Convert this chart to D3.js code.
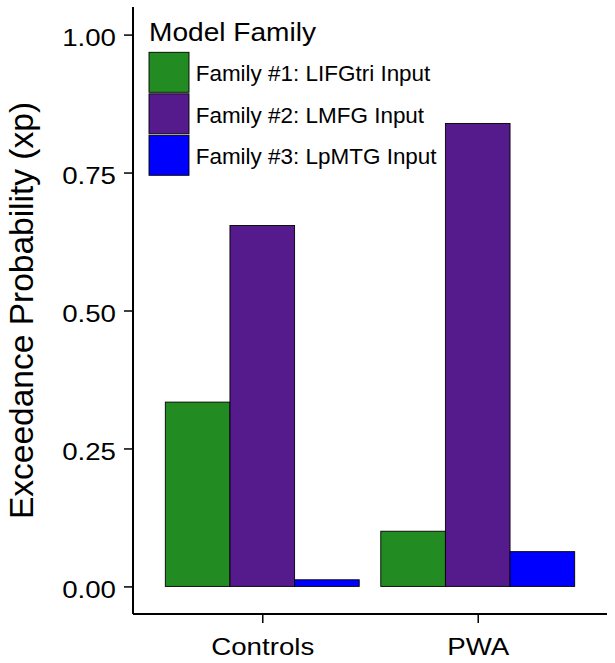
<!DOCTYPE html>
<html><head><meta charset="utf-8">
<script src="https://cdn.jsdelivr.net/npm/d3@7"></script>
<style>body{margin:0;background:#fff}text{font-family:"Liberation Sans",Arial,sans-serif;fill:#000}</style>
</head><body>
<svg id="c" width="615" height="663"></svg>
<script>
const groups = ["Controls", "PWA"];
const families = ["Family #1: LIFGtri Input", "Family #2: LMFG Input", "Family #3: LpMTG Input"];
const colors = ["#228B22", "#551A8B", "#0000FF"];
const controlsValues = [0.334, 0.654, 0.012];
const pwaValues = [0.100, 0.839, 0.063];
const yTicks = [0, 0.25, 0.5, 0.75, 1.0];
const legendTitle = "Model Family";
const yTitle = "Exceedance Probability (xp)";

const seriesByGroup = [controlsValues, pwaValues];
const data = [];
groups.forEach((g, gi) => families.forEach((f, fi) => data.push({group: g, family: f, value: seriesByGroup[gi][fi]})));

function stretch(sel, k) {
  sel.each(function() {
    const w = this.getComputedTextLength();
    d3.select(this).attr("textLength", w * k).attr("lengthAdjust", "spacingAndGlyphs");
  });
}

const svg = d3.select("#c");
const pL = 133, pR = 607, pT = 7, pB = 614;

const y = d3.scaleLinear().domain([-0.05, 1.05]).range([pB, pT]);
const unit = (pR-pL)/2.2;
const xc = d3.scalePoint().domain(groups).range([pL + unit*0.6, pL + unit*1.6]);
const xs = d3.scaleBand().domain(families).range([-unit*0.45, unit*0.45]).padding(0);
const color = d3.scaleOrdinal().domain(families).range(colors);

svg.append("g").selectAll("rect").data(data).join("rect")
  .attr("x", d => xc(d.group) + xs(d.family))
  .attr("y", d => y(d.value))
  .attr("width", xs.bandwidth())
  .attr("height", d => y(0) - y(d.value))
  .attr("fill", d => color(d.family))
  .attr("stroke", "#000").attr("stroke-width", 0.9);

const yAxis = d3.axisLeft(y).tickValues(yTicks).tickFormat(d3.format(".2f")).tickSize(9).tickPadding(8);
const gy = svg.append("g").attr("transform", `translate(${pL},0)`).call(yAxis);
gy.select(".domain").attr("d", `M0,${pT}V${pB}`).attr("stroke","#000").attr("stroke-width",2);
gy.selectAll(".tick line").attr("stroke","#000").attr("stroke-width",1.5);
gy.selectAll(".tick text").attr("font-size", 24.7).attr("font-family", null).attr("fill","#000")
  .attr("dy", null).attr("y", 11).call(stretch, 1.12);

const xAxis = d3.axisBottom(xc).tickSize(9).tickPadding(10);
const gx = svg.append("g").attr("transform", `translate(0,${pB})`).call(xAxis);
gx.select(".domain").attr("d", `M${pL},0H${pR}`).attr("stroke","#000").attr("stroke-width",2);
gx.selectAll(".tick line").attr("stroke","#000").attr("stroke-width",1.5);
gx.selectAll(".tick text").attr("font-size", 24.5).attr("font-family", null).attr("fill","#000")
  .attr("dy", null).attr("y", 41).call(stretch, 1.13);

svg.append("text").attr("transform", `translate(32.5,${(pT+pB)/2}) rotate(-90)`)
  .attr("text-anchor","middle").attr("font-size", 33.5).text(yTitle);

const lg = svg.append("g").attr("transform", "translate(149,0)");
lg.append("text").attr("x", 0).attr("y", 40.7).attr("font-size", 26.5).text(legendTitle).call(stretch, 1.06);
const keyH = 41.5;
families.forEach((f, i) => {
  lg.append("rect").attr("x", 0).attr("y", 52.3 + i*keyH).attr("width", 40).attr("height", 40)
    .attr("fill", color(f)).attr("stroke","#000").attr("stroke-width",0.9);
  lg.append("text").attr("x", 46.7).attr("y", 52.3 + i*keyH + 28.7).attr("font-size", 21.4).text(f).call(stretch, 1.05);
});
</script>
</body></html>
